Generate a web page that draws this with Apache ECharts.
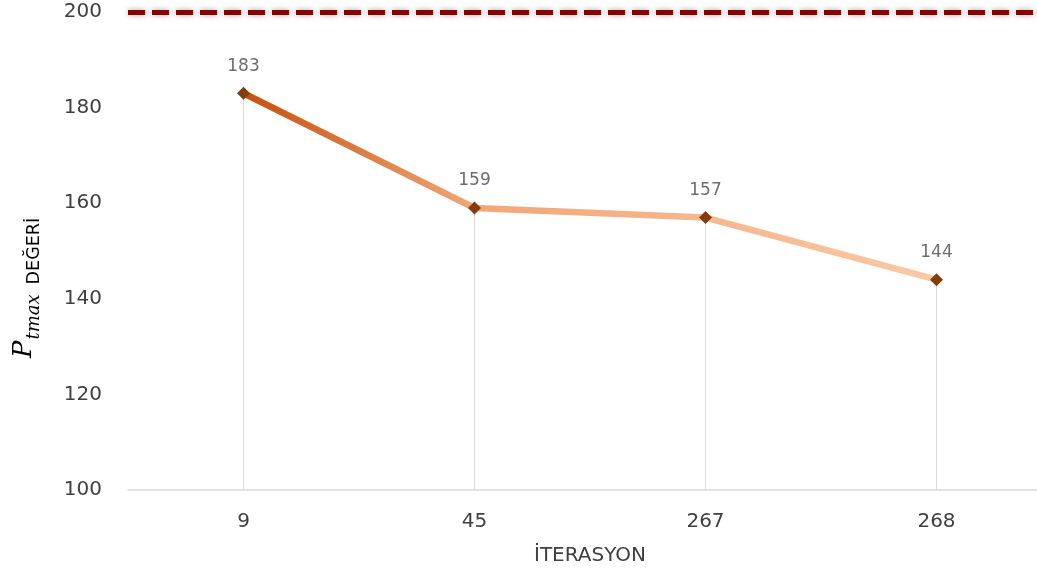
<!DOCTYPE html>
<html><head><meta charset="utf-8">
<script src="https://cdn.jsdelivr.net/npm/echarts@6/dist/echarts.min.js"></script>
<style>html,body{margin:0;padding:0;background:#fff}#c{width:1037px;height:576px}</style>
</head><body><div id="c"></div>
<script>
var categories = ['9', '45', '267', '268'];
var values = [183, 159, 157, 144];
var limitValue = 200;
var yTicks = {min: 100, max: 200, interval: 20};
var xName = 'İTERASYON';

var chart = echarts.init(document.getElementById('c'), null, {renderer: 'canvas'});
chart.setOption({
  animation: false,
  backgroundColor: '#ffffff',
  grid: {left: 128, width: 924, top: 12, bottom: 86, outerBoundsMode: 'none', containLabel: false},
  xAxis: {
    type: 'category', data: categories, boundaryGap: true,
    axisLine: {show: true, lineStyle: {color: '#d9d9d9', width: 1.5}},
    axisTick: {show: false},
    axisLabel: {color: '#404040', fontFamily: 'DejaVu Sans', fontSize: 20, margin: 22},
    splitLine: {show: false}
  },
  yAxis: {
    type: 'value', min: yTicks.min, max: yTicks.max, interval: yTicks.interval,
    axisLine: {show: false}, axisTick: {show: false},
    axisLabel: {color: '#404040', fontFamily: 'DejaVu Sans', fontSize: 20, margin: 26},
    splitLine: {show: false}
  },
  graphic: [
    {type: 'text', x: 590, y: 556, style: {text: xName, fill: '#404040', font: '20px "DejaVu Sans"', align: 'center', verticalAlign: 'middle'}},
    {type: 'text', x: 27, y: 288, rotation: Math.PI / 2,
      style: {
        text: '{p|P}{s|tmax}{d|DEĞERİ}',
        align: 'center', verticalAlign: 'middle',
        rich: {
          p: {fontFamily: 'DejaVu Serif', fontStyle: 'italic', fontSize: 26, fill: '#000', verticalAlign: 'bottom', padding: [0, 0, 6, 0]},
          s: {fontFamily: 'DejaVu Serif', fontStyle: 'italic', fontSize: 18, fill: '#000', verticalAlign: 'bottom', padding: [0, 10, 0, 1]},
          d: {fontFamily: 'DejaVu Sans', fontSize: 17.5, fill: '#000', verticalAlign: 'bottom'}
        }
      }
    }
  ],
  series: [
    {
      type: 'bar', data: values, barWidth: 1, silent: true, z: 1,
      itemStyle: {color: '#d9d9d9'}
    },
    {
      type: 'line', data: values, z: 3,
      symbol: 'diamond', symbolSize: 13,
      itemStyle: {color: '#843C0C'},
      lineStyle: {
        width: 6.5,
        color: {type: 'linear', x: 0, y: 0, x2: 1, y2: 0, colorStops: [
          {offset: 0, color: '#C4500C'},
          {offset: 0.33, color: '#F2A676'},
          {offset: 1, color: '#F8C9A6'}
        ]}
      },
      label: {show: true, position: 'top', distance: 12, color: '#6d6d6d', fontFamily: 'DejaVu Sans', fontSize: 17},
      markLine: {
        silent: true, symbol: 'none', label: {show: false},
        lineStyle: {color: '#8B0000', width: 5, type: [17, 7], shadowBlur: 6, shadowColor: 'rgba(0,0,0,0.35)'},
        data: [{yAxis: limitValue}]
      }
    }
  ]
});
</script></body></html>
